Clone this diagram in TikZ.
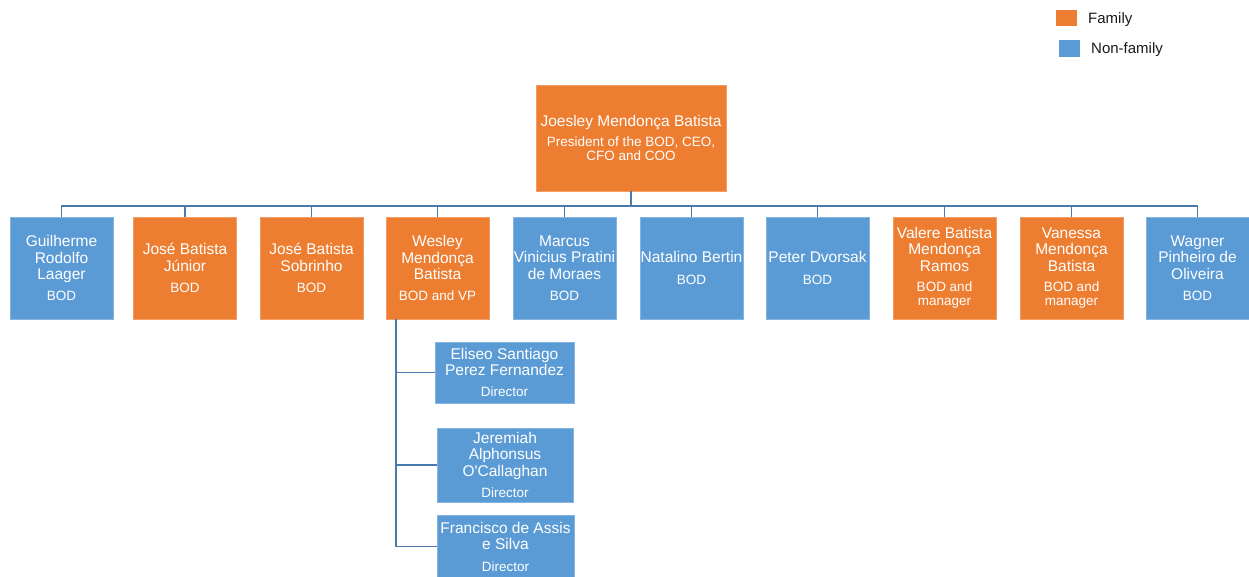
\documentclass[tikz,border=0pt]{standalone}
\usepackage{fontspec}
\setmainfont{Liberation Sans}
\definecolor{fam}{HTML}{ED7D31}
\definecolor{nfam}{HTML}{5B9BD5}
\definecolor{lnk}{HTML}{4A7AAD}
\definecolor{legtext}{HTML}{1A1A1A}
\newcommand{\rl}[1]{{\fontsize{13.5}{14}\selectfont #1}}
\tikzset{
  box/.style={rectangle, inner sep=0pt, text=white, align=center,
    font=\fontsize{15.5}{16.5}\selectfont, line width=0.6pt},
  fbox/.style={box, fill=fam, draw=fam!75!white},
  nbox/.style={box, fill=nfam, draw=nfam!75!white},
  rowbox/.style={minimum width=103pt, minimum height=102pt},
  conn/.style={draw=lnk, line width=1.6pt},
  legsq/.style={rectangle, inner sep=0pt, minimum width=21pt, minimum height=16.5pt},
  legtx/.style={anchor=base west, inner sep=0pt, text=legtext, font=\fontsize{15}{17}\selectfont}
}
\begin{document}
\begin{tikzpicture}[x=1pt, y=-1pt]
\useasboundingbox (0,0) rectangle (1249,577);
% legend
\node[legsq, fill=fam] (lf) at (1066.5,18) {};
\node[legtx] (lft) at (1088,23.5) {Family};
\node[legsq, fill=nfam] (ln) at (1069.5,48.5) {};
\node[legtx] (lnt) at (1091,54) {Non-family};
% top
\node[fbox, minimum width=190pt, minimum height=106pt] (top) at (631,138)
  {Joesley Mendonça Batista\\[3.5pt]\rl{President of the BOD, CEO,}\\[-2.5pt]\rl{CFO and COO}};
% row
\node[nbox, rowbox] (b1) at (61.5,268) {Guilherme\\Rodolfo\\Laager\\[4.5pt]\rl{BOD}};
\node[fbox, rowbox] (b2) at (185,268) {José Batista\\Júnior\\[5pt]\rl{BOD}};
\node[fbox, rowbox] (b3) at (311.5,268) {José Batista\\Sobrinho\\[5pt]\rl{BOD}};
\node[fbox, rowbox] (b4) at (437.5,268) {Wesley\\Mendonça\\Batista\\[4.5pt]\rl{BOD and VP}};
\node[nbox, rowbox] (b5) at (564.5,268) {Marcus\\Vinicius Pratini\\de Moraes\\[4.5pt]\rl{BOD}};
\node[nbox, rowbox] (b6) at (691.5,268) {Natalino Bertin\\[5pt]\rl{BOD}};
\node[nbox, rowbox] (b7) at (817.5,268) {Peter Dvorsak\\[5pt]\rl{BOD}};
\node[fbox, rowbox] (b8) at (944.5,268) {Valere Batista\\Mendonça\\Ramos\\[4pt]\rl{BOD and}\\[-2.5pt]\rl{manager}};
\node[fbox, rowbox] (b9) at (1071.5,268) {Vanessa\\Mendonça\\Batista\\[4pt]\rl{BOD and}\\[-2.5pt]\rl{manager}};
\node[nbox, rowbox] (b10) at (1197.5,268) {Wagner\\Pinheiro de\\Oliveira\\[4.5pt]\rl{BOD}};
% directors
\node[nbox, minimum width=139pt, minimum height=61pt] (d1) at (504.5,372.5)
  {Eliseo Santiago\\Perez Fernandez\\[4.5pt]\rl{Director}};
\node[nbox, minimum width=136pt, minimum height=74pt] (d2) at (505,465)
  {Jeremiah\\Alphonsus\\O\textquotesingle Callaghan\\[5pt]\rl{Director}};
\node[nbox, minimum width=137pt, minimum height=63pt] (d3) at (505.5,546.5)
  {Francisco de Assis\\e Silva\\[5pt]\rl{Director}};
% connectors
\coordinate (bus) at (631,206);
\draw[conn] (top.south) -- (bus);
\foreach \b in {b1,b2,b3,b4,b5,b6,b7,b8,b9,b10}
  \draw[conn] (bus) -| (\b.north);
\coordinate (sp) at (396,319);
\draw[conn] (sp) |- (d1.west);
\draw[conn] (sp) |- (d2.west);
\draw[conn] (sp) |- (d3.west);
\end{tikzpicture}
\end{document}
